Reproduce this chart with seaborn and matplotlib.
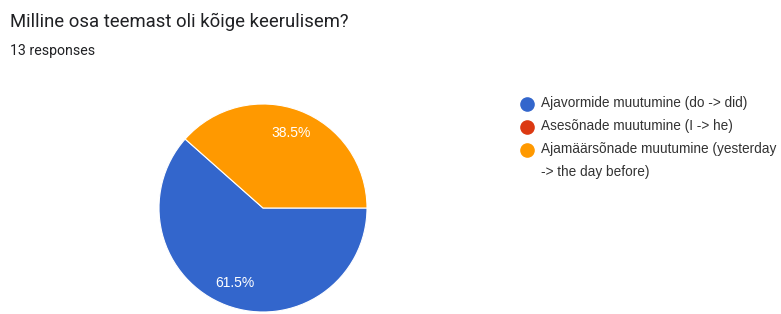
import matplotlib
matplotlib.use("Agg")
import matplotlib.pyplot as plt
import seaborn as sns
from matplotlib.lines import Line2D

# data
labels = [
    "Ajavormide muutumine (do -> did)",
    "Asesõnade muutumine (I -> he)",
    "Ajamäärsõnade muutumine (yesterday\n-> the day before)",
]
counts = [8, 0, 5]
colors = ["#3366CC", "#DC3912", "#FF9900"]
total = sum(counts)

sns.set_theme(style="white")
plt.rcParams["font.family"] = ["Roboto", "DejaVu Sans"]

W, H = 781, 314
fig = plt.figure(figsize=(W / 100, H / 100), dpi=100)
fig.patch.set_facecolor("white")

# pie axes placed in pixel terms: centre (263, 208), radius 104
cx, cy, r = 263, 208, 104
ax = fig.add_axes([(cx - r) / W, (H - cy - r) / H, 2 * r / W, 2 * r / H])

# drop zero slices from the drawing, keep them in legend
vals = [c for c in counts if c > 0]
cols = [col for c, col in zip(counts, colors) if c > 0]
wedges, texts, autotexts = ax.pie(
    vals,
    colors=cols,
    startangle=0,
    counterclock=False,
    autopct=lambda p: f"{p:.1f}%",
    pctdistance=0.77,
    wedgeprops=dict(edgecolor="white", linewidth=0.8),
    textprops=dict(color="white", fontsize=10, family=["Liberation Sans", "DejaVu Sans"]),
)
ax.set_xlim(-1, 1)
ax.set_ylim(-1, 1)

# title and subtitle
fig.text(10 / W, 1 - 22 / H, "Milline osa teemast oli kõige keerulisem?",
         fontsize=13.3, color="#202124", va="center", ha="left")
fig.text(10 / W, 1 - 51 / H, "13 responses", fontsize=10.2, color="#202124",
         va="center", ha="left")

# legend drawn by hand so the marker sits on the first line of wrapped text
ys = [104, 127, 150]
for y, lab, col in zip(ys, labels, colors):
    fig.add_artist(Line2D([527 / W], [1 - y / H], marker="o", markersize=9.5,
                          color=col, linestyle="none", transform=fig.transFigure))
    fig.text(541 / W, 1 - (y - 8) / H, lab, fontsize=9.8, color="#333333",
             va="top", ha="left", linespacing=1.8,
             family=["Liberation Sans", "DejaVu Sans"])

fig.savefig("out.png", dpi=100, facecolor="white")
